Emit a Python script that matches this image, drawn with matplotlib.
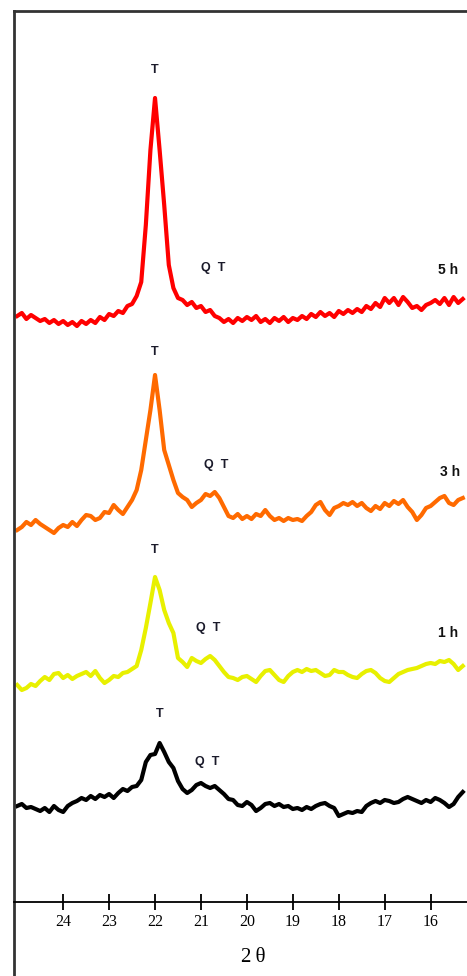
import numpy as np
import matplotlib
matplotlib.use("Agg")
import matplotlib.pyplot as plt

# 2-theta grid, 25.0 -> 15.3 in 0.1 steps
two_theta = np.round(np.arange(25.0, 15.25, -0.1), 1)

# intensities (a.u.), one list per milling time
i_5h = [14, 17, 11, 15, 12, 9, 11, 7, 10, 6,
        9, 5, 8, 4, 9, 6, 10, 7, 13, 10,
        16, 14, 19, 17, 24, 26, 34, 48, 105, 180,
        232, 180, 125, 65, 42, 32, 30, 25, 28, 22,
        24, 18, 20, 14, 12, 8, 11, 7, 12, 9,
        13, 10, 14, 8, 11, 7, 12, 9, 13, 8,
        12, 10, 14, 11, 16, 13, 18, 14, 17, 13,
        19, 16, 20, 17, 21, 18, 24, 21, 27, 23,
        32, 27, 32, 25, 33, 28, 22, 24, 20, 25,
        27, 30, 26, 32, 25, 33, 27, 31]
i_3h = [10, 13, 18, 15, 20, 16, 13, 10, 7, 12,
        15, 13, 18, 14, 20, 25, 24, 20, 22, 28,
        27, 35, 30, 26, 33, 40, 50, 70, 100, 130,
        165, 130, 90, 75, 60, 47, 43, 40, 33, 37,
        40, 46, 44, 48, 42, 33, 24, 22, 26, 21,
        24, 21, 26, 24, 30, 24, 20, 22, 19, 22,
        20, 21, 19, 24, 28, 35, 38, 30, 25, 32,
        34, 37, 35, 38, 34, 37, 32, 29, 34, 31,
        37, 34, 39, 36, 40, 33, 28, 20, 25, 32,
        34, 38, 42, 44, 37, 35, 40, 42]
i_1h = [15, 10, 12, 16, 14, 19, 23, 20, 26, 27,
        22, 25, 21, 24, 26, 28, 24, 29, 22, 17,
        20, 24, 23, 27, 28, 31, 34, 50, 72, 97,
        123, 110, 90, 77, 67, 42, 38, 33, 42, 39,
        37, 41, 44, 40, 34, 28, 23, 22, 20, 23,
        24, 21, 18, 24, 29, 30, 25, 20, 18, 24,
        28, 30, 28, 31, 29, 30, 27, 24, 25, 30,
        28, 28, 25, 23, 22, 26, 29, 30, 27, 22,
        19, 18, 22, 26, 28, 30, 31, 32, 34, 36,
        37, 36, 39, 38, 40, 36, 30, 34]
i_0h = [14, 16, 12, 13, 11, 9, 12, 8, 14, 10,
        8, 14, 17, 19, 22, 20, 24, 21, 25, 23,
        26, 22, 27, 31, 29, 33, 34, 40, 58, 65,
        66, 77, 68, 58, 52, 39, 31, 27, 30, 35,
        37, 34, 32, 34, 30, 26, 21, 20, 15, 14,
        18, 15, 9, 12, 16, 17, 14, 16, 13, 14,
        11, 12, 10, 13, 11, 14, 16, 17, 14, 12,
        4, 6, 8, 7, 9, 8, 14, 17, 19, 17,
        20, 19, 17, 18, 21, 23, 21, 19, 17, 20,
        18, 22, 20, 17, 13, 16, 23, 28]

series = [i_0h, i_1h, i_3h, i_5h]
offsets = [156, 276, 436, 646]
colors = ["#000000", "#e8f000", "#ff6a00", "#ff0000"]
time_labels = [None, "1 h", "3 h", "5 h"]
# positions of the peak markers
t_pos = [(21.89, 262), (22.0, 426), (22.0, 624), (22.0, 906)]
qt_pos = [(20.86, 214), (20.84, 348), (20.67, 511), (20.73, 708)]
h_pos = [None, (15.61, 343), (15.57, 504), (15.61, 706)]

fig = plt.figure(figsize=(4.67, 9.76), dpi=100)
ax = fig.add_axes([14 / 467, 0.0, 1.1, 965 / 976])

for y, off, c in zip(series, offsets, colors):
    ax.plot(two_theta, np.array(y) + off, color=c, lw=3.0)

sans = "Liberation Sans"
for (tx, ty), (qx, qy), hp, lab in zip(t_pos, qt_pos, h_pos, time_labels):
    ax.text(tx, ty, "T", ha="center", va="center", fontsize=9,
            fontweight="bold", family=sans, color="#1a1a2a")
    ax.text(qx, qy, "Q  T", ha="center", va="center", fontsize=9,
            fontweight="bold", family=sans, color="#1a1a2a")
    if hp is not None:
        ax.text(hp[0], hp[1], lab, ha="center", va="center", fontsize=10,
                fontweight="bold", family=sans, color="#111111")

ax.set_xlim(25.07, 13.887)
ax.set_ylim(0, 965)
ax.set_xticks(range(24, 15, -1))
ax.set_yticks([])

ax.spines["bottom"].set_position(("data", 74))
ax.spines["bottom"].set_linewidth(1.3)
ax.spines["left"].set_linewidth(2)
ax.spines["left"].set_color("#333333")
ax.spines["top"].set_linewidth(2)
ax.spines["top"].set_color("#333333")
ax.spines["right"].set_visible(False)

ax.tick_params(axis="x", direction="inout", length=12, width=1.3, pad=3,
               labelsize=11.5)
for lbl in ax.get_xticklabels():
    lbl.set_family("Liberation Serif")

ax.text(19.86, 18, "2\u2009\u03b8", ha="center", va="center", fontsize=15,
        family="Liberation Serif")

fig.savefig("out.png", dpi=100)
